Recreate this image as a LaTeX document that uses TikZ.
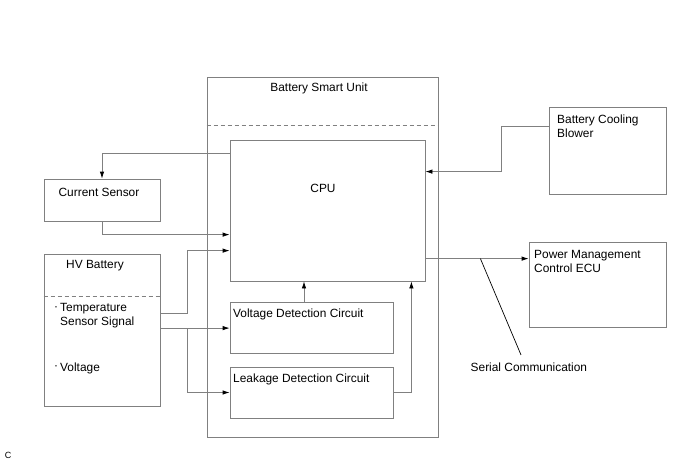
\documentclass[tikz,border=0pt]{standalone}
\usepackage{fontspec}
\setmainfont{Liberation Sans}
\usetikzlibrary{arrows.meta,calc}
\definecolor{ln}{RGB}{128,128,128}
\begin{document}
\begin{tikzpicture}[x=1pt,y=-1pt,
  box/.style={draw=ln,line width=0.8pt,rectangle,inner sep=0pt},
  txt/.style={inner sep=0pt,font=\fontsize{11.9}{13.8}\selectfont,text=black},
  conn/.style={draw=ln,line width=0.8pt},
  arr/.style={conn,-{Latex[length=7pt,width=4.5pt,black]}},
  dsh/.style={draw=ln,line width=0.8pt,dash pattern=on 4pt off 3pt}]
\useasboundingbox (0,0) rectangle (688,463);
% boxes
\node[box,minimum width=231pt,minimum height=360pt] (bsu) at (322.5,257) {};
\node[box,minimum width=195pt,minimum height=141pt] (cpu) at (327.5,210.5) {};
\node[box,minimum width=116pt,minimum height=42pt] (cs) at (102,200) {};
\node[box,minimum width=116pt,minimum height=152pt] (hv) at (102,330) {};
\node[box,minimum width=163pt,minimum height=51pt] (vdc) at (311.5,327.5) {};
\node[box,minimum width=163pt,minimum height=51pt] (ldc) at (311.5,392.5) {};
\node[box,minimum width=117pt,minimum height=87pt] (bcb) at (607.5,150.5) {};
\node[box,minimum width=137pt,minimum height=85pt] (pm) at (597.5,284.5) {};
% dashed separators
\draw[dsh] ($(bsu.north west)+(0,49)$) -- ($(bsu.north east)+(0,49)$);
\draw[dsh] ($(hv.north west)+(0,43)$) -- ($(hv.north east)+(0,43)$);
% texts
\node[txt] (bsut) at (319,88) {Battery Smart Unit};
\node[txt] (cput) at (323,188) {CPU};
\node[txt] (cst) at (99,192) {Current Sensor};
\node[txt] (hvt) at (95,266) {HV Battery};
\node[txt] (d1) at (56,309) {·};
\node[txt,anchor=west,align=left] (tss) at (60,316) {Temperature\\Sensor Signal};
\node[txt] (d2) at (56,368) {·};
\node[txt,anchor=west] (vt) at (60,368) {Voltage};
\node[txt,anchor=west] (vdct) at (233,314) {Voltage Detection Circuit};
\node[txt,anchor=west] (ldct) at (233,379.5) {Leakage Detection Circuit};
\node[txt,anchor=west,align=left] (bcbt) at (557,126.5) {Battery Cooling\\Blower};
\node[txt,anchor=west,align=left] (pmt) at (534,261.5) {Power Management\\Control ECU};
\node[txt,anchor=west] (sct) at (470.5,367.5) {Serial Communication};
\node[inner sep=0pt,font=\fontsize{9}{10}\selectfont] (ct) at (8,455) {C};
% connectors
\draw[arr] ($(cpu.north west)+(0,14)$) -| (cs.north);
\draw[arr] (cs.south) |- ($(cpu.north west)+(0,95)$);
\draw[arr] ($(hv.north east)+(0,60)$) -- ++(27,0) |- ($(cpu.north west)+(0,111)$);
\coordinate (hvo) at ($(hv.north east)+(0,74.5)$);
\draw[arr] (hvo) -- (hvo -| vdc.west);
\coordinate (br) at ($(hvo)+(27,0)$);
\draw[arr] (br) |- (ldc.west);
\coordinate (vup) at ($(vdc.north)+(-7.5,0)$);
\draw[arr] (vup) -- (vup |- cpu.south);
\draw[arr] (ldc.east) -| ($(cpu.south east)+(-14,0)$);
\draw[arr] ($(bcb.north west)+(0,20)$) -- ++(-47,0) |- ($(cpu.north east)+(0,32)$);
\coordinate (so) at ($(cpu.north east)+(0,119)$);
\draw[arr] (so) -- (so -| pm.west);
\coordinate (sj) at ($(so)+(55,0)$);
\draw[line width=0.7pt,black] (sj) -- ($(sct.north west)+(50.5,-8)$);
\end{tikzpicture}
\end{document}
